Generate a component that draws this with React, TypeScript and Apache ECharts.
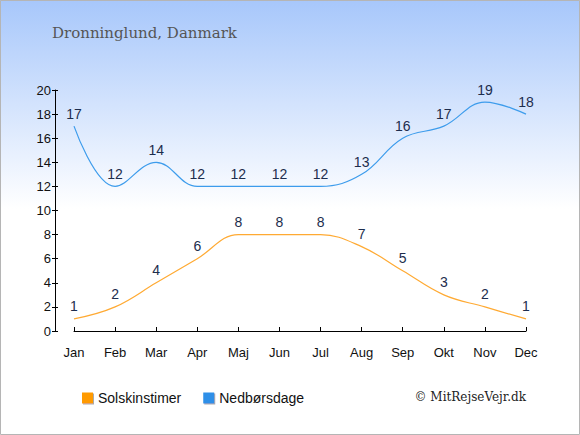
import React, { useEffect, useRef } from "react";
import * as echarts from "echarts";

const months = ["Jan", "Feb", "Mar", "Apr", "Maj", "Jun", "Jul", "Aug", "Sep", "Okt", "Nov", "Dec"];
const sunHours = [1, 2, 4, 6, 8, 8, 8, 7, 5, 3, 2, 1];
const rainDays = [17, 12, 14, 12, 12, 12, 12, 13, 16, 17, 19, 18];
const seriesNames = ["Solskinstimer", "Nedbørsdage"];
const titleText = "Dronninglund, Danmark";
const creditText = "© MitRejseVejr.dk";

export default function App() {
  const ref = useRef<HTMLDivElement>(null);
  useEffect(() => {
    document.body.style.margin = "0";
    if (!ref.current) return;
    const chart = echarts.init(ref.current, undefined, { renderer: "svg" });
    const labelStyle = {
      show: true,
      position: "top",
      distance: 5,
      color: "#1d2d4d",
      fontSize: 14,
      fontFamily: "Liberation Sans, Arial, sans-serif",
    };
    chart.setOption({
      animation: false,
      backgroundColor: new echarts.graphic.LinearGradient(0, 0, 0, 1, [
        { offset: 0, color: "#a7c7fb" },
        { offset: 0.48, color: "#ffffff" },
        { offset: 1, color: "#ffffff" },
      ]),
      title: {
        text: titleText,
        left: 47,
        top: 20,
        textStyle: {
          fontFamily: "DejaVu Serif, serif",
          fontWeight: "normal",
          fontSize: 15,
          color: "#555555",
        },
      },
      legend: {
        left: 77,
        top: 386,
        itemWidth: 11,
        itemHeight: 11,
        itemGap: 22,
        icon: "rect",
        textStyle: { fontSize: 14, color: "#111", fontFamily: "Liberation Sans, Arial, sans-serif" },
        data: [
          { name: seriesNames[0], itemStyle: { color: "#ff9a00", shadowColor: "#aaa", shadowOffsetX: 1, shadowOffsetY: 1 } },
          { name: seriesNames[1], itemStyle: { color: "#2f8fe8", shadowColor: "#aaa", shadowOffsetX: 1, shadowOffsetY: 1 } },
        ],
      },
      grid: { left: 74, right: 54, top: 90, bottom: 104, containLabel: false },
      xAxis: {
        type: "category",
        data: months,
        boundaryGap: false,
        offset: 10,
        axisLine: { lineStyle: { color: "#000", width: 1 } },
        axisTick: { inside: true, length: 4, alignWithLabel: true, lineStyle: { color: "#000" } },
        axisLabel: { color: "#111", fontSize: 13, margin: 5, fontFamily: "Liberation Sans, Arial, sans-serif" },
        splitLine: { show: false },
      },
      yAxis: [
        {
          type: "value",
          min: 0,
          max: 20,
          interval: 2,
          offset: 19,
          axisLine: { show: true, lineStyle: { color: "#000", width: 1 } },
          axisTick: { show: true, length: 3, lineStyle: { color: "#000" } },
          axisLabel: { color: "#111", fontSize: 13, margin: 4, fontFamily: "Liberation Sans, Arial, sans-serif" },
          splitLine: { show: false },
        },
        {
          type: "value",
          position: "left",
          min: 0,
          max: 20,
          interval: 2,
          offset: 19,
          axisLine: { show: false },
          axisTick: { show: true, inside: true, length: 3, lineStyle: { color: "#000" } },
          axisLabel: { show: false },
          splitLine: { show: false },
        },
      ],
      series: [
        {
          name: seriesNames[0],
          type: "line",
          data: sunHours,
          smooth: 0.4,
          symbol: "circle",
          symbolSize: 1,
          itemStyle: { color: "rgba(255,154,0,0)" },
          lineStyle: { color: "#ffaa33", width: 1.2 },
          label: labelStyle,
        },
        {
          name: seriesNames[1],
          type: "line",
          data: rainDays,
          smooth: 0.4,
          symbol: "circle",
          symbolSize: 1,
          itemStyle: { color: "rgba(47,143,232,0)" },
          lineStyle: { color: "#3d9cec", width: 1.2 },
          label: labelStyle,
        },
      ],
      graphic: [
        {
          type: "text",
          right: 54,
          top: 391,
          style: {
            text: creditText,
            fontFamily: "DejaVu Serif, serif",
            fontSize: 12,
            fill: "#222",
          },
        },
        {
          type: "rect",
          shape: { x: 0.5, y: 0.5, width: 579, height: 434 },
          style: { fill: "none", stroke: "#b5b5b5", lineWidth: 1 },
          silent: true,
        },
      ],
    });
    return () => chart.dispose();
  }, []);
  return <div ref={ref} style={{ width: 580, height: 435 }} />;
}
